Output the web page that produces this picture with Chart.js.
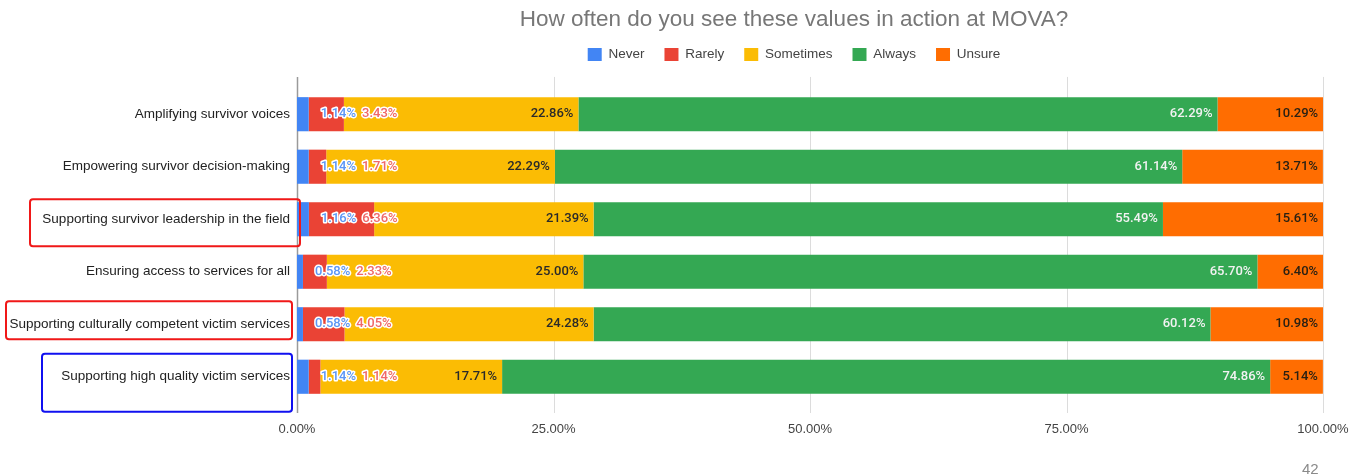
<!DOCTYPE html>
<html>
<head>
<meta charset="utf-8">
<script src="https://cdn.jsdelivr.net/npm/chart.js@4.4.1/dist/chart.umd.min.js"></script>
<style>
  html, body { margin: 0; padding: 0; background: #fff; }
  #wrap { position: relative; width: 1362px; height: 476px; }
  #page { position: absolute; left: 1302px; top: 460px; line-height: 15px; font: 15px "Liberation Sans", Arial, sans-serif; color: #8a8a8a; }
</style>
</head>
<body>
<div id="wrap">
  <canvas id="c" width="1362" height="476"></canvas>
  <div id="page">42</div>
</div>
<script>
// Survey question and answer categories
const chartTitle = 'How often do you see these values in action at MOVA?';
const categories = [
  'Amplifying survivor voices',
  'Empowering survivor decision-making',
  'Supporting survivor leadership in the field',
  'Ensuring access to services for all',
  'Supporting culturally competent victim services',
  'Supporting high quality victim services'
];
const seriesNames = ['Never', 'Rarely', 'Sometimes', 'Always', 'Unsure'];

// Share of responses (%) per value, one array per answer
const never     = [1.14, 1.14, 1.16, 0.58, 0.58, 1.14];
const rarely    = [3.43, 1.71, 6.36, 2.33, 4.05, 1.14];
const sometimes = [22.86, 22.29, 21.39, 25.00, 24.28, 17.71];
const always    = [62.29, 61.14, 55.49, 65.70, 60.12, 74.86];
const unsure    = [10.29, 13.71, 15.61, 6.40, 10.98, 5.14];

// Horizontal axis ticks (%)
const xTicks = [0, 25, 50, 75, 100];

// Rows called out with a frame around their label
const redFrames = [2, 4];
const blueFrames = [5];

const colors = ['#4285F4', '#EA4335', '#FBBC04', '#34A853', '#FF6D01'];
const seriesValues = [never, rarely, sometimes, always, unsure];

Chart.defaults.font.family = '"Liberation Sans", Arial, sans-serif';

// Title and legend are centred a little left of the plot's middle
const headerPlugin = {
  id: 'headerSpan',
  afterLayout(chart) {
    const left = 265;
    const right = chart.chartArea.right;
    [chart.titleBlock, chart.legend].forEach(b => {
      if (!b) return;
      b.left = left;
      b.right = right;
      b.width = right - left;
    });
  }
};

// Vertical grid lines and the zero axis line
const gridPlugin = {
  id: 'gridLines',
  beforeDatasetsDraw(chart) {
    const { ctx, chartArea } = chart;
    const xs = chart.scales.x;
    ctx.save();
    xTicks.forEach(v => {
      const px = Math.round(xs.getPixelForValue(v)) + 0.5;
      ctx.strokeStyle = v === 0 ? '#9a9a9a' : '#dcdcdc';
      ctx.lineWidth = v === 0 ? 1.5 : 1;
      ctx.beginPath();
      ctx.moveTo(px, chartArea.top - 11);
      ctx.lineTo(px, chartArea.bottom + 10);
      ctx.stroke();
    });
    ctx.restore();
  }
};

// Percentage labels on each segment
const labelPlugin = {
  id: 'segmentLabels',
  afterDatasetsDraw(chart) {
    const { ctx } = chart;
    ctx.save();
    ctx.font = '500 13px Roboto, "Liberation Sans", sans-serif';
    ctx.textBaseline = 'middle';
    categories.forEach((cat, i) => {
      const metas = seriesValues.map((_, d) => chart.getDatasetMeta(d).data[i]);
      const y = metas[0].y;
      const fmt = v => v.toFixed(2) + '%';

      // Small segments: labels sit just past the segment, with a white halo
      let x = metas[0].x + 12;
      [[0, '#5b96f5'], [1, '#f06868']].forEach(([d, col]) => {
        const txt = fmt(seriesValues[d][i]);
        ctx.textAlign = 'left';
        ctx.lineJoin = 'round';
        ctx.lineWidth = 3;
        ctx.strokeStyle = '#ffffff';
        ctx.strokeText(txt, x, y);
        ctx.fillStyle = col;
        ctx.fillText(txt, x, y);
        x += ctx.measureText(txt).width + 6;
      });

      // Larger segments: labels right-aligned inside the segment end
      [[2, '#2a2a2a'], [3, '#f2f2f2'], [4, '#2a2113']].forEach(([d, col]) => {
        const txt = fmt(seriesValues[d][i]);
        ctx.textAlign = 'right';
        ctx.fillStyle = col;
        ctx.fillText(txt, metas[d].x - 5, y);
      });
    });
    ctx.restore();
  }
};

// Rounded frames around highlighted row labels
const framePlugin = {
  id: 'labelFrames',
  afterDraw(chart) {
    const { ctx } = chart;
    const ys = chart.scales.y;
    const frame = (i, left, right, up, down, col) => {
      const cy = ys.getPixelForValue(i);
      ctx.save();
      ctx.strokeStyle = col;
      ctx.lineWidth = 2;
      ctx.beginPath();
      ctx.roundRect(left, cy - up, right - left, up + down, 3);
      ctx.stroke();
      ctx.restore();
    };
    frame(redFrames[0], 30, 300, 20, 27, '#f01818');
    frame(redFrames[1], 6, 292, 23, 15, '#f01818');
    frame(blueFrames[0], 42, 292, 23, 35, '#1010f0');
  }
};

new Chart(document.getElementById('c'), {
  type: 'bar',
  data: {
    labels: categories,
    datasets: seriesNames.map((name, d) => ({
      label: name,
      data: seriesValues[d],
      backgroundColor: colors[d],
      borderWidth: 0,
      barPercentage: 0.65,
      categoryPercentage: 1.0
    }))
  },
  options: {
    indexAxis: 'y',
    responsive: false,
    devicePixelRatio: 1,
    animation: false,
    layout: { padding: { left: 0, right: 39, top: 0, bottom: 40 } },
    plugins: {
      title: {
        display: true,
        text: chartTitle,
        color: '#777777',
        font: { size: 22.5, weight: 'normal', lineHeight: 0.7 },
        padding: { top: 12.1, bottom: 0 }
      },
      legend: {
        display: true,
        labels: {
          color: '#444444',
          font: { size: 13.5 },
          boxWidth: 14,
          boxHeight: 13,
          padding: 20
        }
      },
      tooltip: { enabled: false }
    },
    scales: {
      x: {
        type: 'linear',
        stacked: true,
        min: 0,
        max: 100,
        grid: { display: false, drawTicks: false },
        border: { display: false },
        afterBuildTicks: s => { s.ticks = xTicks.map(v => ({ value: v })); },
        afterFit: s => { s.height = 33; s.paddingLeft = 0; s.paddingRight = 0; },
        ticks: {
          color: '#444444',
          font: { size: 13 },
          padding: 19,
          maxRotation: 0,
          callback: v => Number(v).toFixed(2) + '%'
        }
      },
      xTop: {
        type: 'linear',
        position: 'top',
        min: 0,
        max: 100,
        grid: { display: false, drawTicks: false },
        border: { display: false },
        ticks: { display: false },
        afterFit: s => { s.height = 16.6; s.paddingLeft = 0; s.paddingRight = 0; }
      },
      y: {
        stacked: true,
        grid: { display: false, drawTicks: false },
        border: { display: false },
        ticks: { color: '#222222', font: { size: 13.5 }, padding: 7 },
        afterFit: s => { s.width = 297; }
      }
    }
  },
  plugins: [headerPlugin, gridPlugin, labelPlugin, framePlugin]
});
</script>
</body>
</html>
